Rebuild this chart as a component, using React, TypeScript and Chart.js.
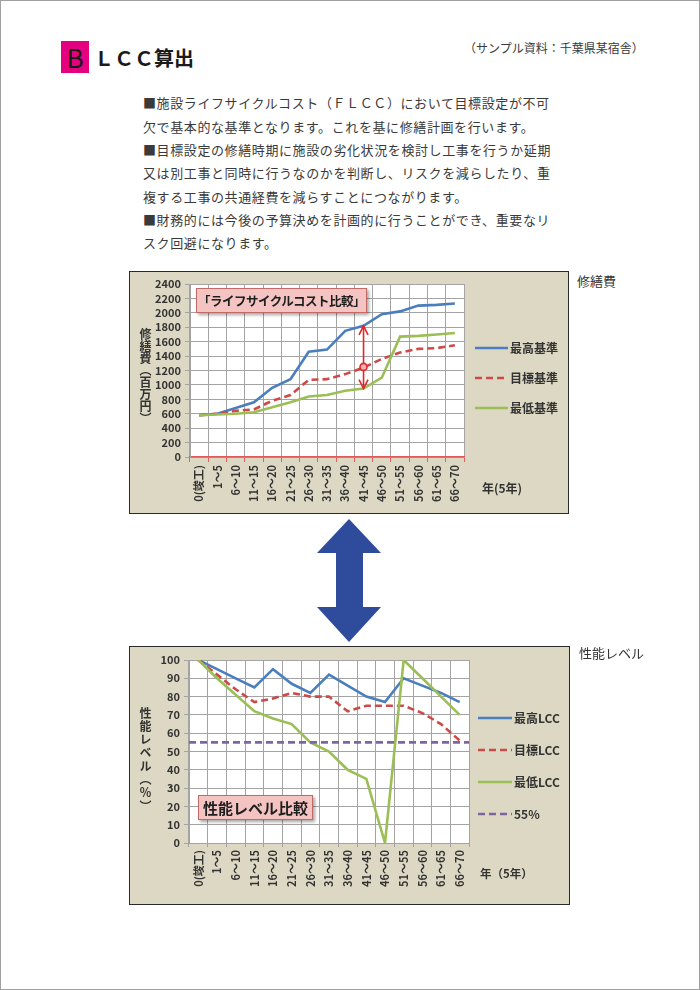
import React, { useEffect, useRef } from "react";
import { Chart, registerables } from "chart.js";

Chart.register(...registerables);

const FONT = "'Noto Sans CJK JP', 'Noto Sans', sans-serif";
Chart.defaults.font.family = FONT;

// ---------- data ----------
const categories = [
  "0(竣工)", "1～5", "6～10", "11～15", "16～20", "21～25", "26～30", "31～35",
  "36～40", "41～45", "46～50", "51～55", "56～60", "61～65", "66～70",
];

const costSeriesNames = ["最高基準", "目標基準", "最低基準"];
const costHigh = [580, 600, 680, 760, 960, 1080, 1460, 1490, 1750, 1820, 1980, 2020, 2100, 2110, 2130];
const costTarget = [580, 600, 640, 660, 780, 860, 1070, 1080, 1150, 1240, 1360, 1450, 1500, 1510, 1550];
const costLow = [580, 590, 600, 620, 690, 760, 840, 860, 920, 950, 1100, 1670, 1680, 1700, 1720];
const costTickValues = [0, 200, 400, 600, 800, 1000, 1200, 1400, 1600, 1800, 2000, 2200, 2400];
const arrowCategoryIndex = 9;
const arrowRange = [950, 1250, 1820]; // bottom, middle marker, top

const perfSeriesNames = ["最高LCC", "目標LCC", "最低LCC", "55%"];
const perfHigh = [100, 95, 90, 85, 95, 87, 82, 92, 86, 80, 77, 90, 86, 82, 77];
const perfTarget = [100, 92, 84, 77, 79, 82, 80, 80, 72, 75, 75, 75, 71, 65, 56];
const perfLow = [100, 90, 81, 72, 68, 65, 55, 50, 40, 35, 0, 100, 90, 80, 70];
const perfTickValues = [0, 10, 20, 30, 40, 50, 60, 70, 80, 90, 100];
const thresholdValue = 55;
const thresholdSpan = [-0.5, categories.length - 0.5];

const introLines = [
  "■施設ライフサイクルコスト（ＦＬＣＣ）において目標設定が不可",
  "欠で基本的な基準となります。これを基に修繕計画を行います。",
  "■目標設定の修繕時期に施設の劣化状況を検討し工事を行うか延期",
  "又は別工事と同時に行うなのかを判断し、リスクを減らしたり、重",
  "複する工事の共通経費を減らすことにつながります。",
  "■財務的には今後の予算決めを計画的に行うことができ、重要なリ",
  "スク回避になります。",
];

// ---------- styles ----------
const BLUE = "#4a7ebf";
const RED = "#cc4a47";
const GREEN = "#9bbf55";
const PURPLE = "#8064a2";
const GRID = "#a3a3a3";
const TEXT = "#333333";
const DASH = [7, 4];

const plotBg = {
  id: "plotBg",
  beforeDraw(chart: any) {
    const { ctx, chartArea } = chart;
    ctx.save();
    ctx.fillStyle = "#ffffff";
    ctx.fillRect(chartArea.left, chartArea.top, chartArea.width, chartArea.height);
    ctx.restore();
  },
};

const sideLegend = {
  id: "sideLegend",
  afterDraw(chart: any, _args: any, opts: any) {
    const { ctx } = chart;
    chart.data.datasets.forEach((ds: any, i: number) => {
      const yy = opts.y + i * opts.gap;
      ctx.save();
      ctx.strokeStyle = ds.borderColor;
      ctx.lineWidth = ds.borderWidth;
      ctx.setLineDash(ds.borderDash || []);
      ctx.beginPath();
      ctx.moveTo(opts.x, yy);
      ctx.lineTo(opts.x + opts.lineLen, yy);
      ctx.stroke();
      ctx.setLineDash([]);
      ctx.fillStyle = TEXT;
      ctx.font = opts.font;
      ctx.textBaseline = "middle";
      ctx.fillText(ds.label, opts.x + opts.lineLen + 2, yy);
      ctx.restore();
    });
  },
};

const rangeArrow = {
  id: "rangeArrow",
  afterDatasetsDraw(chart: any) {
    const { ctx } = chart;
    const x = chart.scales.x.getPixelForValue(arrowCategoryIndex);
    const yBot = chart.scales.y.getPixelForValue(arrowRange[0]);
    const yMid = chart.scales.y.getPixelForValue(arrowRange[1]);
    const yTop = chart.scales.y.getPixelForValue(arrowRange[2]);
    ctx.save();
    ctx.strokeStyle = "#e3262c";
    ctx.lineWidth = 1.6;
    ctx.beginPath();
    ctx.moveTo(x, yTop);
    ctx.lineTo(x, yBot);
    ctx.stroke();
    ctx.beginPath();
    ctx.moveTo(x - 4.5, yTop + 9);
    ctx.lineTo(x, yTop);
    ctx.lineTo(x + 4.5, yTop + 9);
    ctx.stroke();
    ctx.beginPath();
    ctx.moveTo(x - 4.5, yBot - 9);
    ctx.lineTo(x, yBot);
    ctx.lineTo(x + 4.5, yBot - 9);
    ctx.stroke();
    ctx.beginPath();
    ctx.arc(x, yMid, 3.5, 0, Math.PI * 2);
    ctx.fillStyle = "#f5b3b3";
    ctx.fill();
    ctx.stroke();
    ctx.restore();
  },
};

const tickFont = { size: 11, weight: "bold" as const };

function line(label: string, data: any[], color: string, dash: number[], order: number, xAxisID = "x") {
  return {
    label,
    data,
    borderColor: color,
    backgroundColor: color,
    borderWidth: 2.6,
    borderDash: dash,
    pointRadius: 0,
    pointHoverRadius: 0,
    tension: 0,
    fill: false,
    order,
    xAxisID,
  };
}

function CostChart() {
  const ref = useRef<HTMLCanvasElement>(null);
  useEffect(() => {
    const chart = new Chart(ref.current as HTMLCanvasElement, {
      type: "line",
      data: {
        labels: categories,
        datasets: [
          line(costSeriesNames[0], costHigh, BLUE, [], 3),
          line(costSeriesNames[1], costTarget, RED, DASH, 2),
          line(costSeriesNames[2], costLow, GREEN, [], 1),
        ] as any,
      },
      options: {
        animation: false,
        responsive: false,
        events: [],
        layout: { padding: { top: 13, right: 105, bottom: 7, left: 0 } },
        plugins: {
          legend: { display: false },
          tooltip: { enabled: false },
          sideLegend: { x: 346, y: 77, gap: 30, lineLen: 33, font: `bold 12px ${FONT}` },
        } as any,
        scales: {
          x: {
            type: "category",
            offset: true,
            grid: { offset: true, color: GRID, tickLength: 5, tickColor: "#e06060" },
            border: { color: "#e05a5a", width: 1.5 },
            ticks: { autoSkip: false, minRotation: 90, maxRotation: 90, padding: 3, color: TEXT, font: tickFont },
            afterFit: (s: any) => { s.height = 50; },
          },
          y: {
            min: costTickValues[0],
            max: costTickValues[costTickValues.length - 1],
            grid: { color: GRID, tickLength: 5 },
            border: { color: GRID },
            ticks: { autoSkip: false, padding: 4, color: TEXT, font: tickFont, callback: (v: any) => String(v) },
            afterBuildTicks: (s: any) => { s.ticks = costTickValues.map((value) => ({ value })); },
            afterFit: (s: any) => { s.width = 61; },
          },
        } as any,
      },
      plugins: [plotBg, sideLegend, rangeArrow],
    });
    return () => chart.destroy();
  }, []);
  return (
    <canvas ref={ref} width={440} height={243}
      style={{ position: "absolute", left: 128, top: 270, width: 440, height: 243 }} />
  );
}

function PerfChart() {
  const ref = useRef<HTMLCanvasElement>(null);
  useEffect(() => {
    const chart = new Chart(ref.current as HTMLCanvasElement, {
      type: "line",
      data: {
        labels: categories,
        datasets: [
          line(perfSeriesNames[0], perfHigh, BLUE, [], 4),
          line(perfSeriesNames[1], perfTarget, RED, DASH, 3),
          line(perfSeriesNames[2], perfLow, GREEN, [], 2),
          line(perfSeriesNames[3], thresholdSpan.map((x) => ({ x, y: thresholdValue })), PURPLE, DASH, 1, "xl"),
        ] as any,
      },
      options: {
        animation: false,
        responsive: false,
        events: [],
        layout: { padding: { top: 14, right: 101, bottom: 7, left: 0 } },
        plugins: {
          legend: { display: false },
          tooltip: { enabled: false },
          sideLegend: { x: 349, y: 72, gap: 32, lineLen: 34, font: `bold 12px ${FONT}` },
        } as any,
        scales: {
          x: {
            type: "category",
            offset: true,
            grid: { offset: true, color: GRID, tickLength: 4, tickColor: GRID },
            border: { color: GRID, width: 1 },
            ticks: { autoSkip: false, minRotation: 90, maxRotation: 90, padding: 3, color: TEXT, font: tickFont },
            afterFit: (s: any) => { s.height = 55; },
          },
          xl: {
            type: "linear",
            display: false,
            min: thresholdSpan[0],
            max: thresholdSpan[1],
          },
          y: {
            min: perfTickValues[0],
            max: perfTickValues[perfTickValues.length - 1],
            grid: { color: GRID, tickLength: 5 },
            border: { color: GRID },
            ticks: { autoSkip: false, padding: 4, color: TEXT, font: tickFont, callback: (v: any) => String(v) },
            afterBuildTicks: (s: any) => { s.ticks = perfTickValues.map((value) => ({ value })); },
            afterFit: (s: any) => { s.width = 60; },
          },
        } as any,
      },
      plugins: [plotBg, sideLegend],
    });
    return () => chart.destroy();
  }, []);
  return (
    <canvas ref={ref} width={441} height={259}
      style={{ position: "absolute", left: 128, top: 645, width: 441, height: 259 }} />
  );
}

const abs = (s: React.CSSProperties): React.CSSProperties => ({ position: "absolute", margin: 0, ...s });

export default function App() {
  const boxStyle: React.CSSProperties = {
    background: "#ddd8c3",
    border: "1.5px solid #2a2a2a",
    boxSizing: "border-box",
  };
  const tagStyle: React.CSSProperties = {
    background: "#f4c4c2",
    border: "1px solid #c46a66",
    boxShadow: "2px 2px 3px rgba(0,0,0,0.35)",
    boxSizing: "border-box",
    color: "#1e1e1e",
    fontWeight: "bold",
    textAlign: "center",
    whiteSpace: "nowrap",
  };
  const vTitle: React.CSSProperties = {
    fontSize: 12,
    lineHeight: "12px",
    writingMode: "vertical-rl",
    whiteSpace: "nowrap",
    fontWeight: "bold",
    color: TEXT,
  };
  return (
    <div style={abs({ left: 0, top: 0, width: 700, height: 990, background: "#fff", border: "1.5px solid #a0a0a0", boxSizing: "border-box", fontFamily: FONT, color: TEXT, overflow: "hidden" })}>
      {/* header */}
      <div style={abs({ left: 60, top: 40, width: 28, height: 32, background: "#e4007f", color: "#1a1a1a", fontSize: 26, lineHeight: "32px", textAlign: "center" })}>B</div>
      <div style={abs({ left: 93, top: 42, fontSize: 20, lineHeight: "30px", fontWeight: "bold", color: "#1a1a1a", whiteSpace: "nowrap" })}>ＬＣＣ算出</div>
      <div style={abs({ left: 463, top: 38, fontSize: 12, lineHeight: "18px", whiteSpace: "nowrap", color: "#3a3a3a" })}>（サンプル資料：千葉県某宿舎）</div>

      {/* intro text */}
      <div style={abs({ left: 142, top: 90.4, fontSize: 13, lineHeight: "23.3px", letterSpacing: "0.6px", color: "#3a3a3a", whiteSpace: "nowrap" })}>
        {introLines.map((t, i) => <div key={i}>{t}</div>)}
      </div>

      {/* chart 1 */}
      <div style={abs({ left: 576, top: 271, fontSize: 13, lineHeight: "18px", whiteSpace: "nowrap" })}>修繕費</div>
      <div style={abs({ left: 128, top: 270, width: 440, height: 243, ...boxStyle })} />
      <CostChart />
      <div style={abs({ left: 138, top: 327, ...vTitle })}>修繕費（百万円）</div>
      <div style={abs({ left: 195, top: 287, width: 171, height: 25, fontSize: 12.5, letterSpacing: "-0.5px", lineHeight: "23px", ...tagStyle })}>「ライフサイクルコスト比較」</div>
      <div style={abs({ left: 481, top: 478, fontSize: 12, lineHeight: "18px", fontWeight: "bold", whiteSpace: "nowrap" })}>年(5年)</div>

      {/* double arrow */}
      <svg style={abs({ left: 0, top: 0 })} width={700} height={990}>
        <polygon fill="#2f4c9c"
          points="348,518 380,552 362,552 362,606 380,606 348,641 316,606 335,606 335,552 316,552" />
      </svg>

      {/* chart 2 */}
      <div style={abs({ left: 578, top: 643, fontSize: 13, lineHeight: "18px", whiteSpace: "nowrap" })}>性能レベル</div>
      <div style={abs({ left: 128, top: 645, width: 441, height: 259, ...boxStyle })} />
      <PerfChart />
      <div style={abs({ left: 138, top: 706, letterSpacing: "1.3px", ...vTitle })}>性能レベル（％）</div>
      <div style={abs({ left: 197, top: 794, width: 115, height: 25, fontSize: 15, lineHeight: "23px", ...tagStyle })}>性能レベル比較</div>
      <div style={abs({ left: 479, top: 863, fontSize: 11.5, lineHeight: "18px", fontWeight: "bold", whiteSpace: "nowrap" })}>年（5年）</div>
    </div>
  );
}
